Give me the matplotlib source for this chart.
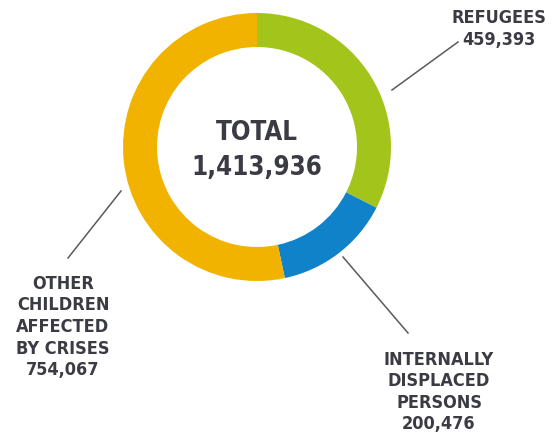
import matplotlib.pyplot as plt
from matplotlib import font_manager

# donnees
categories = ["REFUGEES", "INTERNALLY\nDISPLACED\nPERSONS", "OTHER\nCHILDREN\nAFFECTED\nBY CRISES"]
values = [459393, 200476, 754067]
colors = ["#a3c41b", "#0f82c9", "#f1b300"]
total = sum(values)

# police etroite si dispo (DejaVu Sans Condensed), sinon DejaVu normale
condensed = any(f.name == "DejaVu Sans" and f.stretch == "condensed" for f in font_manager.fontManager.ttflist)
stretch = "condensed" if condensed else "normal"
plt.rcParams["font.family"] = ["DejaVu Sans"]
text_color = "#3b3b44"
scale = 1.0 if condensed else 0.88

W, H = 552, 434
fig = plt.figure(figsize=(W / 100, H / 100), dpi=100)
ax = fig.add_axes([0, 0, 1, 1])

cx, cy, r = 257, H - 147, 134
ax.pie(values, colors=colors, startangle=90, counterclock=False, center=(cx, cy),
       radius=r, wedgeprops=dict(width=34, linewidth=0), frame=True)
ax.set_xlim(0, W)
ax.set_ylim(0, H)
ax.set_aspect("equal")
ax.axis("off")

big = dict(ha="center", va="center", fontsize=18.5 * scale, fontweight="bold", color=text_color, fontstretch=stretch)
ax.text(cx, H - 133, "TOTAL", **big)
ax.text(cx, H - 168, f"{total:,}", **big)

lab = dict(ha="center", va="center", fontsize=13 * scale, fontweight="bold", color=text_color,
           linespacing=1.25 / scale, fontstretch=stretch)
ax.text(499, H - 29, f"{categories[0]}\n{values[0]:,}", **lab)
ax.text(439, H - 392, f"{categories[1]}\n{values[1]:,}", **lab)
ax.text(63, H - 327, f"{categories[2]}\n{values[2]:,}", **lab)

# traits de rappel
line_kw = dict(color="#5a5a5a", lw=1.1)
ax.plot([392, 458], [H - 90, H - 42], **line_kw)
ax.plot([343, 408], [H - 257, H - 333], **line_kw)
ax.plot([121, 68], [H - 191, H - 258], **line_kw)

fig.savefig("out.png", dpi=100)
